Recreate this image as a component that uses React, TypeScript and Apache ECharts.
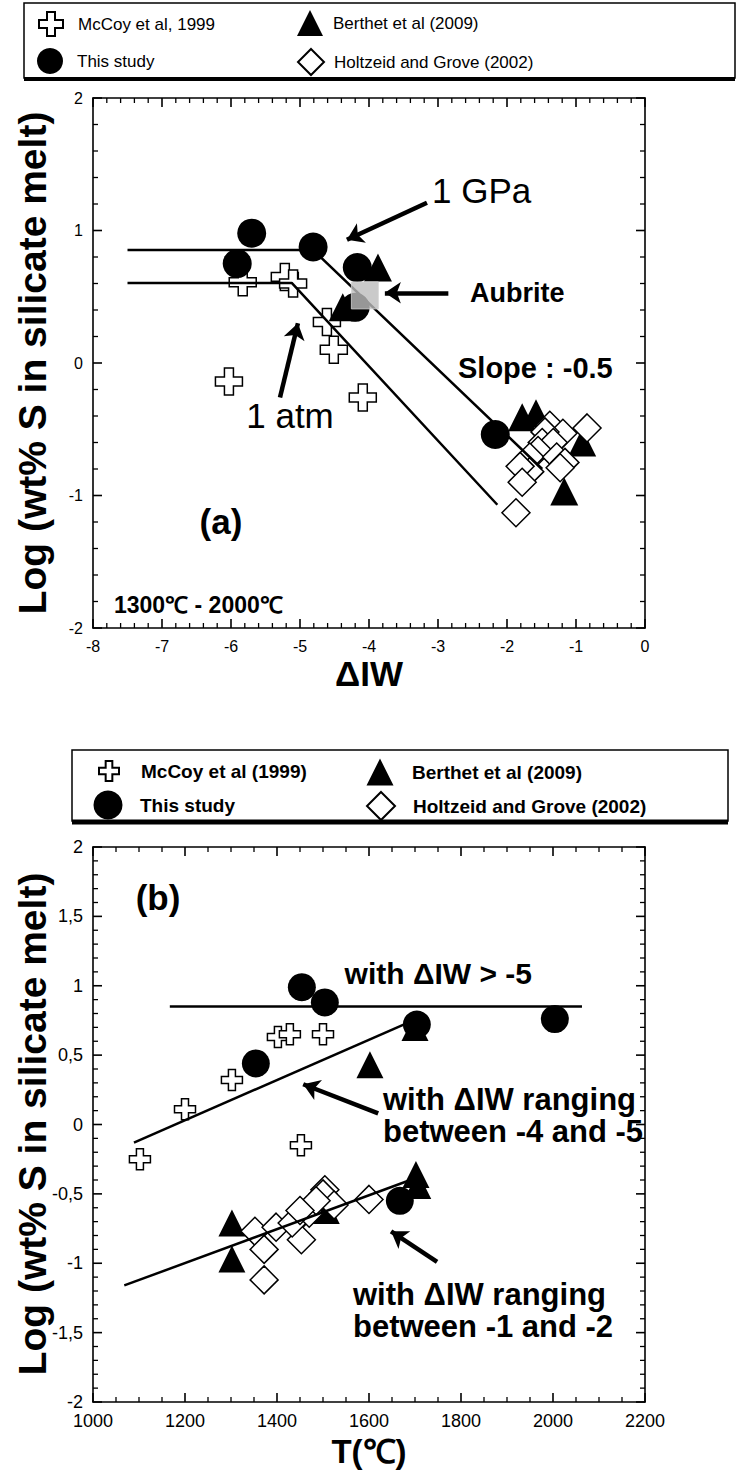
import React, { useEffect, useRef } from "react";
import * as echarts from "echarts";

// ---------- Panel (a): log S vs ΔIW ----------
const mccoyA: number[][] = [[-5.83, 0.61], [-5.22, 0.65], [-5.10, 0.60], [-4.61, 0.31], [-4.51, 0.10], [-6.03, -0.14], [-4.09, -0.26]];
const studyA: number[][] = [[-5.91, 0.75], [-5.70, 0.98], [-4.81, 0.875], [-4.17, 0.72], [-4.20, 0.42], [-2.17, -0.54]];
const berthetA: number[][] = [[-3.87, 0.72], [-4.38, 0.42], [-1.78, -0.41], [-1.58, -0.38], [-0.91, -0.60], [-1.17, -0.97]];
const holtzA: number[][] = [[-0.84, -0.49], [-1.38, -0.47], [-1.19, -0.53], [-1.45, -0.52], [-1.49, -0.60], [-1.33, -0.60], [-1.55, -0.66], [-1.67, -0.71], [-1.28, -0.71], [-1.16, -0.75], [-1.23, -0.79], [-1.67, -0.82], [-1.81, -0.78], [-1.78, -0.90], [-1.87, -1.13]];
const aubrite: number[][] = [[-4.06, 0.51]];
const gpaLine: number[][] = [[-7.5, 0.853], [-4.81, 0.853], [-1.49, -0.80]];
const atmLine: number[][] = [[-7.5, 0.604], [-5.12, 0.604], [-2.14, -1.07]];
const arrowsA: number[][][] = [
  [[-3.16, 1.21], [-4.32, 0.93]],
  [[-5.29, -0.26], [-5.03, 0.30]],
  [[-2.85, 0.53], [-3.77, 0.53]],
];
const xTicksA = { min: -8, max: 0, interval: 1 };
const yTicksA = { min: -2, max: 2, interval: 1 };

// ---------- Panel (b): log S vs T ----------
const mccoyB: number[][] = [[1102, -0.25], [1200, 0.11], [1302, 0.32], [1402, 0.63], [1428, 0.65], [1500, 0.65], [1452, -0.15]];
const studyB: number[][] = [[1454, 0.99], [1504, 0.88], [1354, 0.44], [1704, 0.72], [2004, 0.76], [1667, -0.55]];
const berthetB: number[][] = [[1602, 0.43], [1700, 0.70], [1302, -0.71], [1302, -0.97], [1702, -0.36], [1706, -0.44], [1507, -0.62]];
const holtzB: number[][] = [[1352, -0.77], [1372, -0.90], [1372, -1.12], [1398, -0.74], [1450, -0.66], [1453, -0.83], [1504, -0.47], [1500, -0.50], [1524, -0.58], [1600, -0.54], [1433, -0.71], [1470, -0.64], [1485, -0.55], [1450, -0.62]];
const highLine: number[][] = [[1167, 0.85], [2063, 0.85]];
const midLine: number[][] = [[1089, -0.13], [1689, 0.74]];
const lowLine: number[][] = [[1068, -1.16], [1690, -0.40]];
const arrowsB: number[][][] = [
  [[1620, 0.08], [1457, 0.29]],
  [[1748, -0.99], [1648, -0.77]],
];
const xTicksB = { min: 1000, max: 2200, interval: 200 };
const yTicksB = { min: -2, max: 2, interval: 0.5 };

const NAME_MCCOY_A = "McCoy et al, 1999";
const NAME_MCCOY_B = "McCoy et al (1999)";
const NAME_STUDY = "This study";
const NAME_BERTHET = "Berthet et al (2009)";
const NAME_HOLTZ = "Holtzeid and Grove (2002)";

const FONT = "'Liberation Sans', Arial, Helvetica, sans-serif";
const PLUS = "path://M10,0 L20,0 L20,10 L30,10 L30,20 L20,20 L20,30 L10,30 L10,20 L0,20 L0,10 L10,10 Z";

const GA = { left: 93, top: 98, width: 552, height: 530 };
const GB = { left: 93, top: 847, width: 552, height: 555 };

function axisBase(extra: any) {
  return {
    type: "value",
    show: true,
    axisLine: { show: true, onZero: false, lineStyle: { color: "#000", width: 1.6 } },
    axisTick: { show: false },
    minorTick: { show: false },
    splitLine: { show: false },
    minorSplitLine: { show: false },
    ...extra,
  };
}

// tick positions (major + minor) along an axis, as [value, isMinor]
function tickList(t: { min: number; max: number; interval: number }, split: number): number[][] {
  const out: number[][] = [];
  const step = t.interval / split;
  const n = Math.round((t.max - t.min) / step);
  for (let i = 0; i <= n; i++) out.push([t.min + i * step, i % split === 0 ? 0 : 1]);
  return out;
}

export default function App() {
  const ref = useRef<HTMLDivElement>(null);
  useEffect(() => {
    if (!ref.current) return;
    const chart = echarts.init(ref.current, undefined, { renderer: "svg" });
    const plainFmt = (v: number) => String(v);
    const commaFmt = (v: number) => String(v).replace(".", ",");
    const lbl = (size: number, fmt: any) => ({ show: true, color: "#000", fontSize: size, fontFamily: FONT, margin: 10, formatter: fmt });
    const hide = { show: false };

    const scatterStyle = (sym: string, size: number, fill: string) => ({
      type: "scatter",
      symbol: sym,
      symbolSize: size,
      itemStyle: { color: fill, borderColor: "#000", borderWidth: fill === "#fff" ? 1.5 : 0, opacity: 1 },
      emphasis: { disabled: true },
    });
    const lineSeries = (data: number[][], xi: number, yi: number) => ({
      type: "line",
      data,
      xAxisIndex: xi,
      yAxisIndex: yi,
      symbol: "none",
      lineStyle: { color: "#000", width: 2.5 },
      z: 3,
      silent: true,
    });
    const arrowSeries = (arr: number[][][], xi: number, yi: number) => ({
      type: "lines",
      coordinateSystem: "cartesian2d",
      xAxisIndex: xi,
      yAxisIndex: yi,
      symbol: ["none", "arrow"],
      symbolSize: [0, 16],
      lineStyle: { color: "#000", width: 4.5, opacity: 1 },
      data: arr.map((c) => ({ coords: c })),
      z: 6,
      silent: true,
    });

    // inward ticks on all four sides of a frame, placed through the axes' own scales
    const tickSeries = (xt: any, yt: any, xSplit: number, ySplit: number, xi: number, yi: number) => {
      const data: number[][] = [];
      tickList(xt, xSplit).forEach(([v, m]) => data.push([v, yt.min, m]));
      tickList(yt, ySplit).forEach(([v, m]) => data.push([xt.min, v, 2 + m]));
      return {
        type: "custom",
        coordinateSystem: "cartesian2d",
        xAxisIndex: xi,
        yAxisIndex: yi,
        silent: true,
        z: 7,
        data,
        renderItem: (_p: any, api: any) => {
          const kind = api.value(2);
          const isMinor = kind % 2 === 1;
          const len = isMinor ? 5 : 9;
          const style = { stroke: "#000", lineWidth: isMinor ? 1.3 : 1.6 };
          if (kind < 2) {
            const x = api.value(0);
            const b = api.coord([x, yt.min]);
            const t = api.coord([x, yt.max]);
            return {
              type: "group",
              children: [
                { type: "line", shape: { x1: b[0], y1: b[1], x2: b[0], y2: b[1] - len }, style },
                { type: "line", shape: { x1: t[0], y1: t[1], x2: t[0], y2: t[1] + len }, style },
              ],
            };
          }
          const y = api.value(1);
          const l = api.coord([xt.min, y]);
          const r = api.coord([xt.max, y]);
          return {
            type: "group",
            children: [
              { type: "line", shape: { x1: l[0], y1: l[1], x2: l[0] + len, y2: l[1] }, style },
              { type: "line", shape: { x1: r[0], y1: r[1], x2: r[0] - len, y2: r[1] }, style },
            ],
          };
        },
      };
    };

    // icon is square (size x size) centred at (cx, cy); text starts at textX
    const legendItem = (name: string, cx: number, cy: number, size: number, textX: number, bold: boolean, fs: number) => ({
      show: true,
      data: [name],
      left: cx - size / 2,
      top: cy - size / 2,
      itemWidth: size,
      itemHeight: size,
      padding: 0,
      selectedMode: false,
      textStyle: {
        color: "#000", fontSize: fs, fontFamily: FONT, fontWeight: bold ? "bold" : "normal",
        padding: [0, 0, 0, Math.max(0, textX - (cx + size / 2) - 5)],
      },
    });

    const text = (t: string, x: number, y: number, size: number, bold: boolean, align = "left", rotation = 0) => ({
      type: "text",
      x,
      y,
      rotation,
      z: 10,
      style: { text: t, fill: "#000", fontSize: size, fontWeight: bold ? "bold" : "normal", fontFamily: FONT, align, verticalAlign: "middle" },
    });

    chart.setOption({
      animation: false,
      backgroundColor: "#fff",
      grid: [
        { ...GA, containLabel: false },
        { ...GB, containLabel: false },
      ],
      xAxis: [
        axisBase({ gridIndex: 0, position: "bottom", ...xTicksA, axisLabel: lbl(16, plainFmt) }),
        axisBase({ gridIndex: 0, position: "top", ...xTicksA, axisLabel: hide }),
        axisBase({ gridIndex: 1, position: "bottom", ...xTicksB, axisLabel: lbl(18, plainFmt) }),
        axisBase({ gridIndex: 1, position: "top", ...xTicksB, axisLabel: hide }),
      ],
      yAxis: [
        axisBase({ gridIndex: 0, position: "left", ...yTicksA, axisLabel: lbl(16, plainFmt) }),
        axisBase({ gridIndex: 0, position: "right", ...yTicksA, axisLabel: hide }),
        axisBase({ gridIndex: 1, position: "left", ...yTicksB, axisLabel: lbl(18, commaFmt) }),
        axisBase({ gridIndex: 1, position: "right", ...yTicksB, axisLabel: hide }),
      ],
      legend: [
        legendItem(NAME_MCCOY_A, 50, 23, 24, 77, false, 17),
        legendItem(NAME_STUDY, 50, 61, 26, 77, false, 17),
        legendItem(NAME_BERTHET, 310, 23, 26, 333, false, 17),
        legendItem(NAME_HOLTZ, 310, 61, 26, 333, false, 17),
        legendItem(NAME_MCCOY_B, 108, 770, 20, 140, true, 19),
        legendItem(NAME_STUDY, 108, 805, 29, 140, true, 19),
        legendItem(NAME_BERTHET, 380, 772, 27, 412, true, 19),
        legendItem(NAME_HOLTZ, 380, 805, 28, 412, true, 19),
      ],
      series: [
        // panel a
        tickSeries(xTicksA, yTicksA, 5, 5, 0, 0),
        { ...scatterStyle(PLUS, 27, "#fff"), name: NAME_MCCOY_A, data: mccoyA, xAxisIndex: 0, yAxisIndex: 0, z: 2 },
        { ...scatterStyle("circle", 29, "#000"), name: NAME_STUDY, data: studyA, xAxisIndex: 0, yAxisIndex: 0, z: 2 },
        { ...scatterStyle("triangle", 28, "#000"), name: NAME_BERTHET, data: berthetA, xAxisIndex: 0, yAxisIndex: 0, z: 2 },
        { ...scatterStyle("diamond", 28, "#fff"), name: NAME_HOLTZ, data: holtzA, xAxisIndex: 0, yAxisIndex: 0, z: 2 },
        lineSeries(gpaLine, 0, 0),
        lineSeries(atmLine, 0, 0),
        {
          type: "scatter", name: "Aubrite", data: aubrite, xAxisIndex: 0, yAxisIndex: 0, symbol: "rect", symbolSize: 27, z: 5,
          itemStyle: { color: "#bdbdbd", borderColor: "#d6d6d6", borderWidth: 1 }, emphasis: { disabled: true },
        },
        arrowSeries(arrowsA, 0, 0),
        // panel b
        tickSeries(xTicksB, yTicksB, 4, 5, 2, 2),
        { ...scatterStyle(PLUS, 21, "#fff"), name: NAME_MCCOY_B, data: mccoyB, xAxisIndex: 2, yAxisIndex: 2, z: 2 },
        { ...scatterStyle("circle", 28, "#000"), name: NAME_STUDY, data: studyB, xAxisIndex: 2, yAxisIndex: 2, z: 2 },
        { ...scatterStyle("triangle", 27, "#000"), name: NAME_BERTHET, data: berthetB, xAxisIndex: 2, yAxisIndex: 2, z: 2 },
        { ...scatterStyle("diamond", 28, "#fff"), name: NAME_HOLTZ, data: holtzB, xAxisIndex: 2, yAxisIndex: 2, z: 2 },
        lineSeries(highLine, 2, 2),
        lineSeries(midLine, 2, 2),
        lineSeries(lowLine, 2, 2),
        arrowSeries(arrowsB, 2, 2),
      ],
      graphic: [
        // legend frames
        { type: "rect", shape: { x: 24, y: 3, width: 711, height: 75 }, style: { fill: "none", stroke: "#000", lineWidth: 1.5 }, z: 1 },
        { type: "line", shape: { x1: 24, y1: 79, x2: 735, y2: 79 }, style: { stroke: "#000", lineWidth: 4 }, z: 1 },
        { type: "rect", shape: { x: 72, y: 750, width: 656, height: 71 }, style: { fill: "none", stroke: "#000", lineWidth: 1.5 }, z: 1 },
        { type: "line", shape: { x1: 72, y1: 822, x2: 728, y2: 822 }, style: { stroke: "#000", lineWidth: 5 }, z: 1 },
        // panel a texts
        text("1 GPa", 432, 190, 35, false),
        text("Aubrite", 470, 293, 27, true),
        text("Slope : -0.5", 458, 368, 29, true),
        text("1 atm", 290, 415, 35, false, "center"),
        text("(a)", 221, 521, 35, true, "center"),
        text("1300℃ - 2000℃", 114, 605, 23, true),
        text("ΔIW", 369, 673, 35, true, "center"),
        text("Log (wt% S in silicate melt)", 32, 363, 39, true, "center", Math.PI / 2),
        // panel b texts
        text("(b)", 158, 897, 35, true, "center"),
        text("with ΔIW > -5", 532, 973, 30, true, "right"),
        text("with ΔIW ranging", 383, 1099, 31, true),
        text("between -4 and -5", 383, 1131, 31, true),
        text("with ΔIW ranging", 353, 1294, 31, true),
        text("between -1 and -2", 353, 1326, 31, true),
        text("T(℃)", 369, 1451, 33, true, "center"),
        text("Log (wt% S in silicate melt)", 32, 1124, 39, true, "center", Math.PI / 2),
      ],
    });
    return () => chart.dispose();
  }, []);
  return <div ref={ref} style={{ position: "fixed", left: 0, top: 0, width: 739, height: 1473, background: "#fff" }} />;
}
